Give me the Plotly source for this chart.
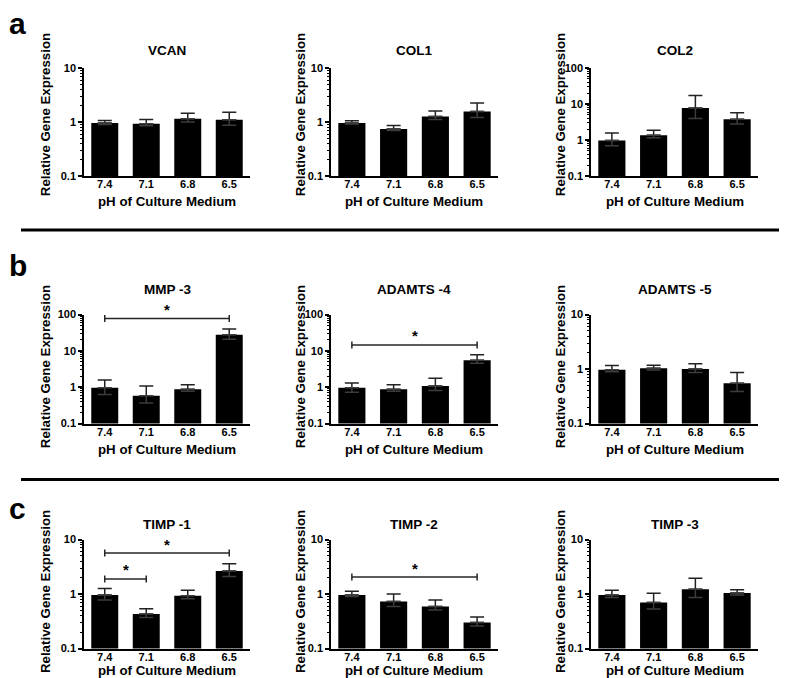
import math
import plotly.graph_objects as go

# ---------------- data ----------------
ph_labels = ["7.4", "7.1", "6.8", "6.5"]

genes = ["VCAN", "COL1", "COL2",
         "MMP -3", "ADAMTS -4", "ADAMTS -5",
         "TIMP -1", "TIMP -2", "TIMP -3"]

vcan_mean = [0.96, 0.93, 1.15, 1.10]
vcan_hi = [1.07, 1.12, 1.46, 1.52]
vcan_lo = [0.90, 0.85, 1.00, 0.87]

col1_mean = [0.96, 0.74, 1.27, 1.56]
col1_hi = [1.06, 0.86, 1.61, 2.25]
col1_lo = [0.92, 0.70, 1.12, 1.22]

col2_mean = [0.98, 1.37, 7.8, 3.8]
col2_hi = [1.58, 1.87, 17.2, 5.7]
col2_lo = [0.69, 1.16, 4.0, 2.8]

mmp3_mean = [0.97, 0.58, 0.88, 28.0]
mmp3_hi = [1.59, 1.09, 1.18, 40.0]
mmp3_lo = [0.63, 0.37, 0.78, 21.0]

adamts4_mean = [0.97, 0.88, 1.09, 5.5]
adamts4_hi = [1.32, 1.18, 1.77, 7.9]
adamts4_lo = [0.73, 0.78, 0.81, 4.6]

adamts5_mean = [0.97, 1.04, 1.00, 0.55]
adamts5_hi = [1.17, 1.18, 1.25, 0.87]
adamts5_lo = [0.89, 0.96, 0.87, 0.39]

timp1_mean = [0.96, 0.43, 0.93, 2.64]
timp1_hi = [1.27, 0.54, 1.18, 3.58]
timp1_lo = [0.78, 0.37, 0.82, 2.09]

timp2_mean = [0.96, 0.73, 0.59, 0.30]
timp2_hi = [1.13, 1.00, 0.78, 0.38]
timp2_lo = [0.90, 0.59, 0.51, 0.26]

timp3_mean = [0.96, 0.70, 1.23, 1.04]
timp3_hi = [1.18, 1.03, 1.95, 1.20]
timp3_lo = [0.86, 0.53, 0.86, 0.96]

# y-axis upper decade per panel (log10)
y_top = [1, 1, 2, 2, 2, 1, 1, 1, 1]

# significance brackets: (panel index, from category, to category, y value)
sig_panel = [3, 4, 6, 6, 7]
sig_from = [0, 0, 0, 0, 0]
sig_to = [3, 3, 3, 1, 3]
sig_y = [78.0, 14.6, 5.66, 1.89, 2.05]

means = [vcan_mean, col1_mean, col2_mean, mmp3_mean, adamts4_mean,
         adamts5_mean, timp1_mean, timp2_mean, timp3_mean]
his = [vcan_hi, col1_hi, col2_hi, mmp3_hi, adamts4_hi,
       adamts5_hi, timp1_hi, timp2_hi, timp3_hi]
los = [vcan_lo, col1_lo, col2_lo, mmp3_lo, adamts4_lo,
       adamts5_lo, timp1_lo, timp2_lo, timp3_lo]

# ---------------- layout geometry (pixels) ----------------
W, H = 787, 678
col_x = [(76, 242), (323, 490), (583, 750)]
row_y = [(55, 165), (306, 417), (535, 646)]
title_y = [37, 280, 520]
xtitle_y = [191, 443, 668]
ytitle_x = [37, 292, 552]
ytitle_shift = [-7, -2, -2]
row_letters = ["a", "b", "c"]
letter_y = [10, 256, 503]
sep_y = [220, 474]

FONT = "Liberation Sans, Arial, sans-serif"

def px_x(p):
    return p / W

def px_y(p):
    return 1 - p / H

fig = go.Figure()
layout = dict(
    width=W, height=H,
    margin=dict(l=0, r=0, t=0, b=0),
    paper_bgcolor="white", plot_bgcolor="white",
    showlegend=False,
    font=dict(family=FONT, color="black"),
)
annotations = []
shapes = []

xs = list(range(len(ph_labels)))

for i in range(9):
    r, c = divmod(i, 3)
    n = i + 1
    xa = "x" if n == 1 else f"x{n}"
    ya = "y" if n == 1 else f"y{n}"
    xkey = "xaxis" if n == 1 else f"xaxis{n}"
    ykey = "yaxis" if n == 1 else f"yaxis{n}"

    m = means[i]
    plus = [h - v for h, v in zip(his[i], m)]
    minus = [v - l for v, l in zip(m, los[i])]

    fig.add_trace(go.Bar(
        x=xs, y=m, width=0.65,
        marker=dict(color="black", line=dict(width=0)),
        error_y=dict(type="data", symmetric=False, array=plus,
                     arrayminus=[0] * len(m),
                     color="#222", thickness=1.5, width=7),
        xaxis=xa, yaxis=ya,
    ))
    # lower whisker visible faintly inside the bar
    fig.add_trace(go.Scatter(
        x=xs, y=m, mode="markers",
        marker=dict(size=1, color="rgba(0,0,0,0)"),
        error_y=dict(type="data", symmetric=False, array=[0] * len(m),
                     arrayminus=minus, color="#3c3c3c", thickness=1.5, width=7),
        xaxis=xa, yaxis=ya, hoverinfo="skip",
    ))

    top = y_top[i]
    majors = [10 ** k for k in range(-1, top + 1)]
    major_text = ["0.1" if v < 1 else str(int(v)) for v in majors]
    minors = [d * 10 ** k for k in range(-1, top) for d in range(2, 10)]

    x0, x1 = col_x[c]
    y0, y1 = row_y[r]
    layout[xkey] = dict(
        domain=[px_x(x0), px_x(x1)], anchor=ya,
        range=[-0.5, len(ph_labels) - 0.5],
        tickmode="array", tickvals=xs, ticktext=ph_labels,
        showline=True, linecolor="black", linewidth=1.5,
        ticks="", showgrid=False, zeroline=False,
        tickfont=dict(family=FONT, size=11, weight="bold", color="black"),
        ticklabelstandoff=-3,
        fixedrange=True,
    )
    layout[ykey] = dict(
        domain=[px_y(y1), px_y(y0)], anchor=xa,
        type="log", range=[-1, top],
        tickmode="array", tickvals=majors, ticktext=major_text,
        showline=True, linecolor="black", linewidth=1.5,
        ticks="outside", ticklen=4, tickwidth=1.5, tickcolor="black",
        minor=dict(tickmode="array", tickvals=minors, ticks="outside",
                   ticklen=2, tickwidth=1, tickcolor="black", showgrid=False),
        showgrid=False, zeroline=False,
        tickfont=dict(family=FONT, size=11, weight="bold", color="black"),
        fixedrange=True,
    )

    # panel title
    annotations.append(dict(
        text=genes[i], xref="paper", yref="paper",
        x=px_x((x0 + x1) / 2), y=px_y(title_y[r]),
        xanchor="center", yanchor="middle", showarrow=False,
        font=dict(family=FONT, size=13.5, weight="bold", color="black"),
    ))
    # x title
    annotations.append(dict(
        text="pH of Culture Medium", xref="paper", yref="paper",
        x=px_x((x0 + x1) / 2), y=px_y(xtitle_y[r]),
        xanchor="center", yanchor="middle", showarrow=False,
        font=dict(family=FONT, size=13.3, weight="bold", color="black"),
    ))
    # y title
    annotations.append(dict(
        text="Relative Gene Expression", xref="paper", yref="paper",
        x=px_x(ytitle_x[c]), y=px_y((y0 + y1) / 2 + ytitle_shift[r]),
        xanchor="center", yanchor="middle", showarrow=False, textangle=-90,
        font=dict(family=FONT, size=13.3, weight="bold", color="black"),
    ))

# significance brackets
for p, a, b, yv in zip(sig_panel, sig_from, sig_to, sig_y):
    n = p + 1
    xa = "x" if n == 1 else f"x{n}"
    ya = "y" if n == 1 else f"y{n}"
    r = p // 3
    decade_px = (row_y[r][1] - row_y[r][0]) / (y_top[p] + 1)
    f = 10 ** (3.5 / decade_px)
    fig.add_trace(go.Scatter(
        x=[a, a, None, a, b, None, b, b],
        y=[yv / f, yv * f, None, yv, yv, None, yv / f, yv * f],
        mode="lines", line=dict(color="#262626", width=1.5),
        xaxis=xa, yaxis=ya, hoverinfo="skip", connectgaps=False,
        cliponaxis=False,
    ))
    # star: annotation on the log axis (position given as log10 of the value)
    annotations.append(dict(
        text="*", xref=xa, yref=ya,
        x=(a + b) / 2, y=math.log10(yv), yshift=9,
        xanchor="center", yanchor="middle", showarrow=False,
        font=dict(family=FONT, size=15, weight="bold", color="black"),
    ))

# row letters
for letter, ly in zip(row_letters, letter_y):
    annotations.append(dict(
        text=letter, xref="paper", yref="paper",
        x=px_x(-1), y=px_y(ly),
        xanchor="left", yanchor="middle", showarrow=False,
        font=dict(family=FONT, size=30, weight="bold", color="black"),
    ))

# separators
for sy in sep_y:
    shapes.append(dict(
        type="line", xref="paper", yref="paper",
        x0=px_x(13), x1=1.0, y0=px_y(sy), y1=px_y(sy),
        line=dict(color="black", width=3),
    ))

layout["annotations"] = annotations
layout["shapes"] = shapes
fig.update_layout(**layout)

fig.write_html("out.html")
